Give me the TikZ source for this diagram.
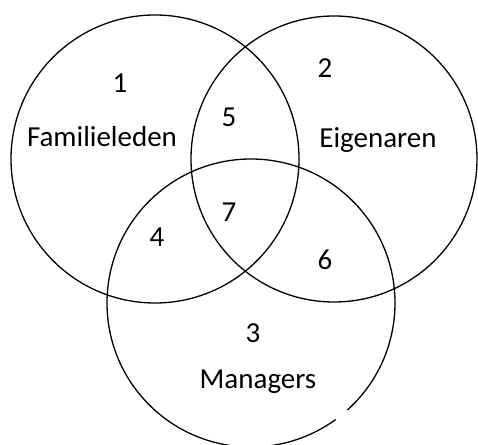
\documentclass[tikz,border=0pt]{standalone}
\usepackage{fontspec}
\setmainfont{Carlito}
\begin{document}
\begin{tikzpicture}[x=1pt,y=1pt,line width=1.3pt,
  lbl/.style={font=\fontsize{29}{29}\selectfont},
  setlbl/.style={lbl,anchor=base}]
  \useasboundingbox (0,0) rectangle (478,444);

  \draw (155,285) circle (144pt);
  \draw (334,285) circle (143pt);
  \draw (251,141) ++(-48:144pt) arc (-48:306:144pt);

  \path
  (120,361) node[lbl](n1) {1}
  (325,376) node[lbl](n2) {2}
  (253,111) node[lbl](n3) {3}
  (157,207) node[lbl](n4) {4}
  (229,327) node[lbl](n5) {5}
  (325,184) node[lbl](n6) {6}
  (229,232) node[lbl](n7) {7}

  (102,297) node[setlbl](fam) {Familieleden}
  (378,296) node[setlbl](eig) {Eigenaren}
  (258,56)  node[setlbl](man) {Managers}
  ;
\end{tikzpicture}
\end{document}
